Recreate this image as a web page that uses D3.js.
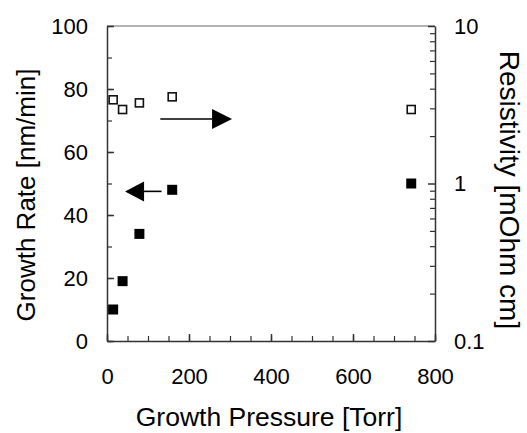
<!DOCTYPE html>
<html>
<head>
<meta charset="utf-8">
<script src="https://cdn.jsdelivr.net/npm/d3@7"></script>
<style>
  body { margin: 0; background: #fff; }
  text { font-family: "Liberation Sans", Arial, sans-serif; fill: #000; }
</style>
</head>
<body>
<div id="chart"></div>
<script>
// data
var pressure = [15, 38, 79, 159, 742];
var growthRate = [10, 19, 34, 48, 50];
var resistivity = [3.4, 2.95, 3.25, 3.55, 2.95];

var xTicks = [0, 200, 400, 600, 800];
var yLeftTicks = [0, 20, 40, 60, 80, 100];
var yRightTicks = [0.1, 1, 10];

var W = 527, H = 433;
var m = {left: 107, top: 26, right: 92, bottom: 92};
var w = W - m.left - m.right, h = H - m.top - m.bottom;

var svg = d3.select("#chart").append("svg")
	.attr("width", W)
	.attr("height", H);

var g = svg.append("g")
	.attr("transform", "translate(" + m.left + "," + m.top + ")");

var x = d3.scaleLinear().domain([0, 800]).range([0, w]);
var yL = d3.scaleLinear().domain([0, 100]).range([h, 0]);
var yR = d3.scaleLog().domain([0.1, 10]).range([h, 0]);

var axisColor = "#333";

// top frame line
g.append("line")
	.attr("x1", 0).attr("x2", w)
	.attr("y1", 0).attr("y2", 0)
	.attr("stroke", "#999")
	.attr("stroke-width", 1.5);

// minor ticks
function minor(axis) {
	return function(sel) {
		sel.call(axis);
		sel.select(".domain").remove();
		sel.selectAll("line").attr("stroke", axisColor).attr("stroke-width", 1.2);
	};
}

// x axis
g.append("g")
	.attr("transform", "translate(0," + h + ")")
	.call(minor(d3.axisBottom(x).tickValues(d3.range(0, 801, 50)).tickSize(-5).tickFormat("")));
var xa = g.append("g")
	.attr("transform", "translate(0," + h + ")")
	.call(d3.axisBottom(x).tickValues(xTicks).tickSizeInner(-7).tickSizeOuter(0).tickPadding(27));

// left y axis
g.append("g")
	.call(minor(d3.axisLeft(yL).tickValues(d3.range(0, 101, 10)).tickSize(-5).tickFormat("")));
var yla = g.append("g")
	.call(d3.axisLeft(yL).tickValues(yLeftTicks).tickSizeInner(-7).tickSizeOuter(0).tickPadding(19));

// right y axis (log)
var minorR = [];
[0.1, 1].forEach(function(d) {
	for (var k = 2; k <= 9; k++) minorR.push(d * k);
});
g.append("g")
	.attr("transform", "translate(" + w + ",0)")
	.call(minor(d3.axisRight(yR).tickValues(minorR).tickSize(-5).tickFormat("")));
var yra = g.append("g")
	.attr("transform", "translate(" + w + ",0)")
	.call(d3.axisRight(yR).tickValues(yRightTicks).tickSizeInner(-7).tickSizeOuter(0).tickPadding(19)
		.tickFormat(function(d) { return d3.format("~g")(d); }));

[xa, yla, yra].forEach(function(a) {
	a.selectAll("path, line").attr("stroke", axisColor).attr("stroke-width", 1.5);
	a.selectAll("text").style("font-size", "22px").attr("fill", "#000");
});

// growth rate: filled squares
var s = 10;
g.selectAll(".rate").data(pressure).enter().append("rect")
	.attr("class", "rate")
	.attr("x", function(d) { return x(d) - s / 2; })
	.attr("y", function(d, i) { return yL(growthRate[i]) - s / 2; })
	.attr("width", s).attr("height", s)
	.attr("fill", "#000");

// resistivity: open squares
var so = 8;
g.selectAll(".res").data(pressure).enter().append("rect")
	.attr("class", "res")
	.attr("x", function(d) { return x(d) - so / 2; })
	.attr("y", function(d, i) { return yR(resistivity[i]) - so / 2; })
	.attr("width", so).attr("height", so)
	.attr("fill", "#fff")
	.attr("stroke", "#111")
	.attr("stroke-width", 1.6);

// arrows
function arrow(x0, x1, yy, headLen) {
	var dir = x1 > x0 ? 1 : -1;
	var xb = x1 - dir * headLen;
	g.append("line")
		.attr("x1", x0).attr("x2", xb)
		.attr("y1", yy).attr("y2", yy)
		.attr("stroke", "#000").attr("stroke-width", 1.6);
	g.append("path")
		.attr("d", "M" + x1 + "," + yy + "L" + xb + "," + (yy - 10) + "L" + xb + "," + (yy + 10) + "Z")
		.attr("fill", "#000");
}
arrow(x(130), x(305), yL(70.5), 20);
arrow(x(133), x(44), yL(47.5), 19);

// axis titles
svg.append("text")
	.attr("x", 269)
	.attr("y", 426)
	.attr("text-anchor", "middle")
	.style("font-size", "26.5px")
	.text("Growth Pressure [Torr]");

svg.append("text")
	.attr("transform", "translate(35,195) rotate(-90)")
	.attr("text-anchor", "middle")
	.style("font-size", "26px")
	.text("Growth Rate [nm/min]");

svg.append("text")
	.attr("transform", "translate(500,190) rotate(90)")
	.attr("text-anchor", "middle")
	.style("font-size", "28px")
	.text("Resistivity [mOhm cm]");
</script>
</body>
</html>
